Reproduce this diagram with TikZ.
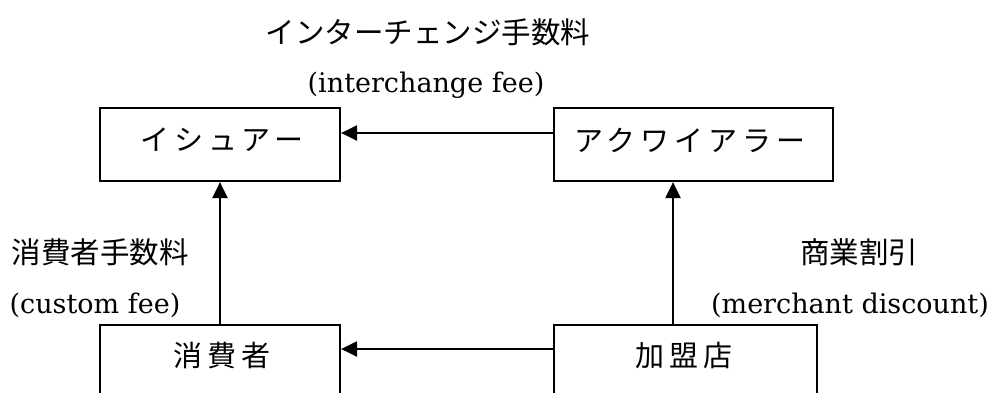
\documentclass[tikz,border=0pt]{standalone}
\usepackage{fontspec}
\setmainfont{DejaVu Serif}
\newfontfamily\jp{Noto Sans CJK JP}
\newfontfamily\jpbox{Noto Sans CJK JP}[LetterSpace=17]
\usetikzlibrary{arrows.meta}
\begin{document}
\begin{tikzpicture}[x=1pt,y=-1pt,
  box/.style={draw,line width=2.2pt,minimum height=73pt,inner sep=0pt},
  lbl/.style={inner sep=0pt,anchor=center},
  btxt/.style={lbl,font=\jpbox\fontsize{29}{29}\selectfont},
  jlbl/.style={lbl,font=\jp\fontsize{29.5}{29.5}\selectfont},
  elbl/.style={lbl,font=\fontsize{27}{27}\selectfont},
  arr/.style={line width=2.2pt,-{Triangle[length=16pt,width=15pt]}}]
\useasboundingbox (0,0) rectangle (992,392);
\clip (0,0) rectangle (992,392);
\node[box,minimum width=240pt] (iss) at (220,144.5) {};
\node[box,minimum width=279pt] (acq) at (693.5,144.5) {};
\node[box,minimum width=240pt] (cons) at (220,361.5) {};
\node[box,minimum width=263pt] (merch) at (685.5,361.5) {};
\node[btxt] (issT) at (222,140) {イシュアー};
\node[btxt] (acqT) at (690,140) {アクワイアラー};
\node[btxt] (consT) at (222,355) {消費者};
\node[btxt] (merchT) at (684,355) {加盟店};
\coordinate (th) at (0,133);
\coordinate (bh) at (0,349);
\coordinate (rv) at (673,0);
\draw[arr] (acq.west |- th) -- (iss.east |- th);
\draw[arr] (merch.west |- bh) -- (cons.east |- bh);
\draw[arr] (cons.north) -- (iss.south);
\draw[arr] (merch.north -| rv) -- (acq.south -| rv);
\node[jlbl] (ifeeJ) at (428,32) {インターチェンジ手数料};
\node[elbl] (ifeeE) at (426,85) {(interchange fee)};
\node[jlbl] (cfeeJ) at (100,252) {消費者手数料};
\node[elbl] (cfeeE) at (95,305) {(custom fee)};
\node[jlbl] (mdJ) at (859,252) {商業割引};
\node[elbl] (mdE) at (850,305) {(merchant discount)};
\end{tikzpicture}
\end{document}
